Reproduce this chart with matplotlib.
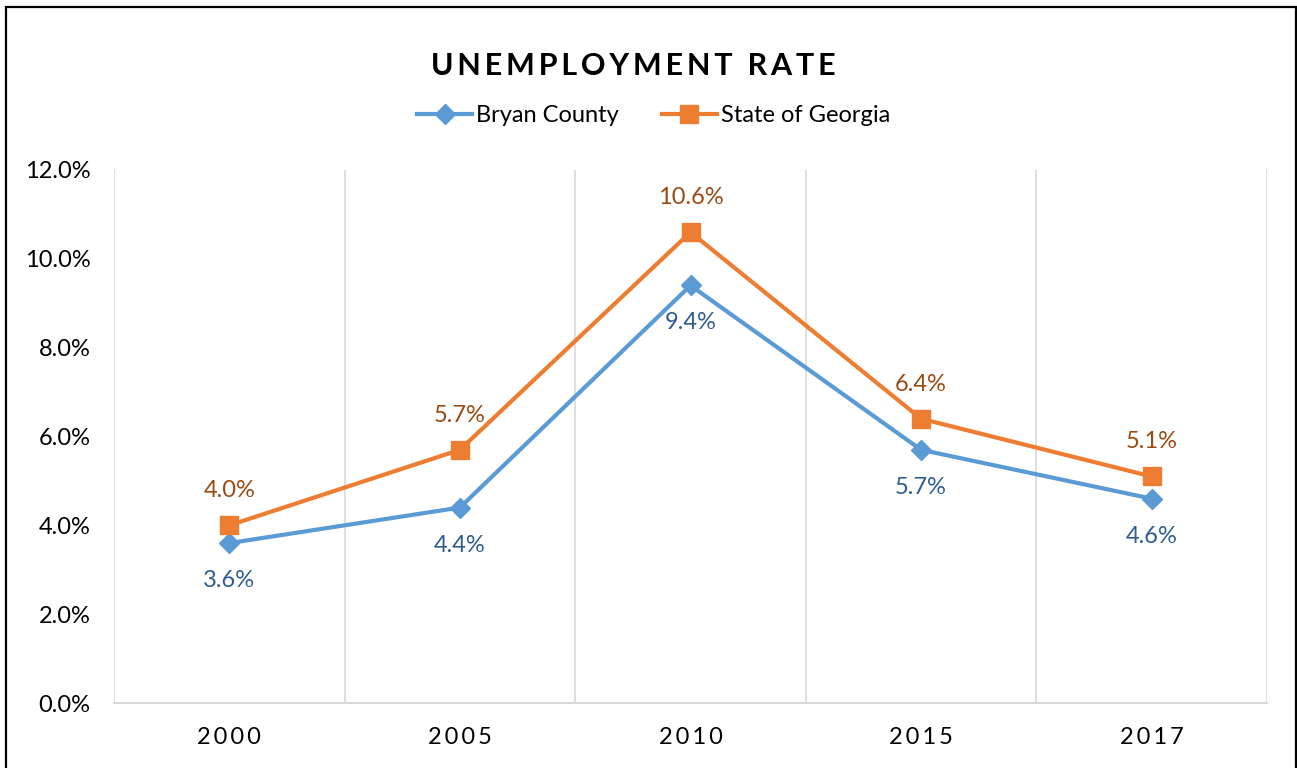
import numpy as np
import matplotlib.pyplot as plt
from matplotlib.patches import Rectangle

years = ["2000", "2005", "2010", "2015", "2017"]
bryan_county = [3.6, 4.4, 9.4, 5.7, 4.6]
state_of_georgia = [4.0, 5.7, 10.6, 6.4, 5.1]
y_ticks = [0, 2, 4, 6, 8, 10, 12]

BLUE = "#5B9BD5"
ORANGE = "#ED7D31"
BLUE_LABEL = "#2E5E8F"
ORANGE_LABEL = "#9A4A12"
GRID = "#D9D9D9"

plt.rcParams["font.family"] = ["Lato", "DejaVu Sans"]

# two hair spaces between letters for the tracked-out text
TRACK = "\u200a\u200a"


def spaced(text, sep=TRACK):
    return sep.join(text)


fig = plt.figure(figsize=(12.97, 7.68), dpi=100)
ax = fig.add_axes([114 / 1297, 1 - 703 / 768, (1267 - 114) / 1297, (703 - 170) / 768])

x = np.arange(len(years))

ax.plot(x, bryan_county, color=BLUE, lw=3, marker="D", ms=10, label="Bryan County",
        zorder=3, solid_joinstyle="miter")
ax.plot(x, state_of_georgia, color=ORANGE, lw=3, marker="s", ms=13, label="State of Georgia",
        zorder=4, solid_joinstyle="miter")

# value labels: county below its markers, state above
for xi, v in zip(x, bryan_county):
    ax.annotate(f"{v:.1f}%", (xi, v), xytext=(0, -27), textcoords="offset points",
                ha="center", va="center", fontsize=17, color=BLUE_LABEL)
for xi, v in zip(x, state_of_georgia):
    ax.annotate(f"{v:.1f}%", (xi, v), xytext=(0, 25), textcoords="offset points",
                ha="center", va="center", fontsize=17, color=ORANGE_LABEL)

ax.set_xlim(-0.5, len(years) - 0.5)
ax.set_ylim(0, 12)
ax.set_yticks(y_ticks)
ax.set_yticklabels([f"{t:.1f}%" for t in y_ticks], fontsize=17)
ax.set_xticks(x)
ax.set_xticklabels([spaced(y) for y in years], fontsize=17)
ax.tick_params(length=0)
ax.tick_params(axis="y", pad=17)
ax.tick_params(axis="x", pad=17)

# vertical separators between categories
for b in np.arange(-0.5, len(years), 1.0):
    ax.axvline(b, color=GRID, lw=1.2, zorder=0)

for side in ["top", "left", "right"]:
    ax.spines[side].set_visible(False)
ax.spines["bottom"].set_color(GRID)
ax.spines["bottom"].set_linewidth(1.5)

fig.text(0.488, 1 - 66 / 768, spaced("UNEMPLOYMENT RATE"), ha="center", va="center",
         fontsize=22, fontweight="bold")

fig.legend(loc="center", bbox_to_anchor=(0.504, 1 - 116 / 768), ncol=2, frameon=False,
           fontsize=17, handlelength=2.33, handletextpad=0.17, columnspacing=1.8)

# outer frame of the chart
fig.patches.append(Rectangle((6 / 1297, -0.01), (1296 - 6) / 1297, 1.01 - 7 / 768,
                             transform=fig.transFigure, fill=False, ec="black", lw=1.6))

fig.savefig("out.png", dpi=100)
